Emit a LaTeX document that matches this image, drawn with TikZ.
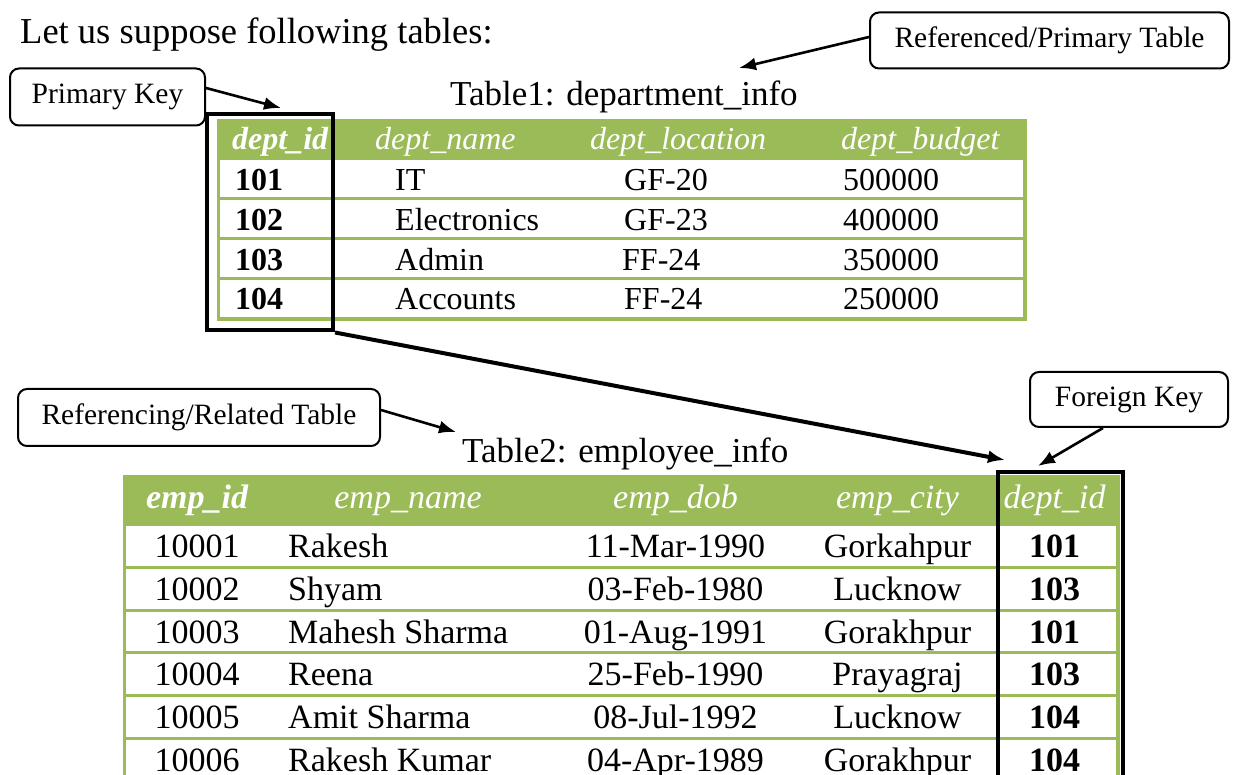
\documentclass[tikz,border=0pt]{standalone}
\usepackage{fontspec}
\setmainfont{Liberation Serif}
\usetikzlibrary{arrows.meta}
\definecolor{tgreen}{RGB}{155,187,89}
\begin{document}
\begin{tikzpicture}[x=1pt,y=-1pt,
  callout/.style={draw=black, line width=2pt, rounded corners=9pt, fill=white, inner sep=0pt, font=\fontsize{29.5}{31}\selectfont},
  ptr/.style={line width=2.6pt, -{Latex[length=17pt,width=13pt]}},
  keyframe/.style={draw=black, line width=4pt, inner sep=0pt, anchor=north west},
  title/.style={font=\fontsize{35}{37}\selectfont, anchor=base west, inner sep=0pt},
  hdrA/.style={text=white, font=\itshape\fontsize{32}{34}\selectfont, anchor=base west, inner sep=0pt},
  hdrAb/.style={hdrA, font=\bfseries\itshape\fontsize{32}{34}\selectfont},
  valA/.style={font=\fontsize{32}{34}\selectfont, anchor=base west, inner sep=0pt},
  valAb/.style={valA, font=\bfseries\fontsize{32}{34}\selectfont},
  hdrB/.style={text=white, font=\itshape\fontsize{34}{36}\selectfont, anchor=base, inner sep=0pt},
  hdrBb/.style={hdrB, font=\bfseries\itshape\fontsize{34}{36}\selectfont},
  valB/.style={font=\fontsize{34}{36}\selectfont, anchor=base, inner sep=0pt},
  valBl/.style={valB, anchor=base west},
  valBb/.style={valB, font=\bfseries\fontsize{34}{36}\selectfont},
  gline/.style={draw=tgreen, line width=3pt},
]
\clip (0,0) rectangle (1235,775);
\fill[white] (0,0) rectangle (1235,775);

% intro text
\node[title, font=\fontsize{36.5}{38}\selectfont] (intro) at (20,44) {Let us suppose following tables:};

% ---------- Table 1 ----------
\node[title] (t1title) at (450,105.5) {Table1: department\_info};
\fill[tgreen] (216.75,119) rectangle (1026.75,160);
\draw[gline, line width=3.5pt] (218.5,120.5) rectangle (1025,319);
\foreach \yy in {198.5,238.5,278.5} \draw[gline] (218.5,\yy) -- (1025,\yy);

\node[hdrAb] (h1a) at (232,150) {dept\_id};
\node[hdrA] (h1b) at (375,150) {dept\_name};
\node[hdrA] (h1c) at (590,150) {dept\_location};
\node[hdrA] (h1d) at (841,150) {dept\_budget};

\node[valAb] (r1a) at (235,190.5) {101};
\node[valA] (r1b) at (395,190.5) {IT};
\node[valA] (r1c) at (624,190.5) {GF-20};
\node[valA] (r1d) at (843,190.5) {500000};

\node[valAb] (r2a) at (235,230.5) {102};
\node[valA] (r2b) at (395,230.5) {Electronics};
\node[valA] (r2c) at (624,230.5) {GF-23};
\node[valA] (r2d) at (843,230.5) {400000};

\node[valAb] (r3a) at (235,270.5) {103};
\node[valA] (r3b) at (395,270.5) {Admin};
\node[valA] (r3c) at (622,270.5) {FF-24};
\node[valA] (r3d) at (843,270.5) {350000};

\node[valAb] (r4a) at (235,310) {104};
\node[valA] (r4b) at (395,310) {Accounts};
\node[valA] (r4c) at (624,310) {FF-24};
\node[valA] (r4d) at (843,310) {250000};

\node[keyframe, minimum width=126pt, minimum height=216.5pt] (pkcol) at (205,112) {};

% ---------- Table 2 ----------
\node[title] (t2title) at (462,463) {Table2: employee\_info};
\fill[tgreen] (122.75,475) rectangle (1119.75,526);
\draw[gline, line width=3.5pt] (124.5,476) -- (124.5,790);
\draw[gline, line width=3.5pt] (1118,476) -- (1118,790);
\foreach \yy in {567.5,610.2,652.8,695.5,738} \draw[gline] (124.5,\yy) -- (1118,\yy);

\node[hdrBb] (h2a) at (197,509) {emp\_id};
\node[hdrB] (h2b) at (408,509) {emp\_name};
\node[hdrB] (h2c) at (675.5,509) {emp\_dob};
\node[hdrB] (h2d) at (897.5,509) {emp\_city};
\node[hdrB] (h2e) at (1054.5,509) {dept\_id};

\foreach \i/\id/\nm/\dob/\city/\dep in {
  0/10001/Rakesh/11-Mar-1990/Gorkahpur/101,
  1/10002/Shyam/03-Feb-1980/Lucknow/103,
  2/10003/Mahesh Sharma/01-Aug-1991/Gorakhpur/101,
  3/10004/Reena/25-Feb-1990/Prayagraj/103,
  4/10005/Amit Sharma/08-Jul-1992/Lucknow/104,
  5/10006/Rakesh Kumar/04-Apr-1989/Gorakhpur/104}{
  \pgfmathsetmacro{\by}{558+42.6*\i}
  \node[valB] (e\i a) at (197,\by) {\id};
  \node[valBl] (e\i b) at (288,\by) {\nm};
  \node[valB] (e\i c) at (675.5,\by) {\dob};
  \node[valB] (e\i d) at (897.5,\by) {\city};
  \node[valBb] (e\i e) at (1054.5,\by) {\dep};
}

\node[keyframe, minimum width=125pt, minimum height=340pt] (fkcol) at (996,470) {};

% ---------- callouts ----------
\node[callout, minimum width=359pt, minimum height=56pt] (refbox) at (1049.5,40.5) {Referenced/Primary Table};
\node[callout, minimum width=195pt, minimum height=57pt] (pkbox) at (107.5,97) {Primary Key};
\node[callout, minimum width=362pt, minimum height=57pt] (relbox) at (199,417.5) {Referencing/Related Table};
\node[callout, minimum width=198pt, minimum height=55pt] (fkbox) at (1129,399.5) {Foreign Key};

% ---------- connectors ----------
\coordinate (t1tip) at (739,68);
\coordinate (pktip) at (281,108);
\coordinate (t2tip) at (456,432);
\coordinate (fktip) at (1038,466);
\coordinate (linktip) at (1005,460);

\draw[ptr] ([yshift=3.5pt]refbox.west) -- (t1tip);
\draw[ptr] ([yshift=9pt]pkbox.east) -- (pktip);
\draw[ptr] ([yshift=7.5pt]relbox.east) -- (t2tip);
\draw[ptr] ([xshift=-26pt]fkbox.south) -- (fktip);
\draw[ptr, line width=4pt] (pkcol.south east) -- (linktip);
\end{tikzpicture}
\end{document}
